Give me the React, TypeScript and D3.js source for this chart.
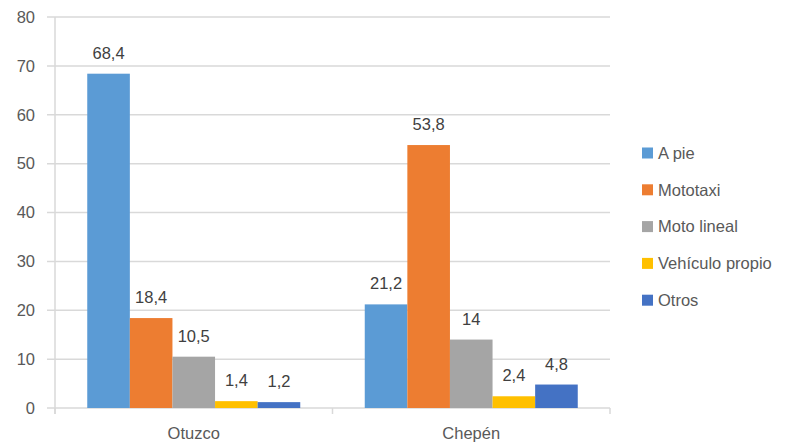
import React from "react";
import * as d3 from "d3";

const categories = ["Otuzco", "Chepén"];
const seriesNames = ["A pie", "Mototaxi", "Moto lineal", "Vehículo propio", "Otros"];
const seriesColors = ["#5B9BD5", "#ED7D31", "#A5A5A5", "#FFC000", "#4472C4"];
const values: number[][] = [
  [68.4, 21.2],
  [18.4, 53.8],
  [10.5, 14],
  [1.4, 2.4],
  [1.2, 4.8],
];
const yTicks = [0, 10, 20, 30, 40, 50, 60, 70, 80];

const W = 787;
const H = 447;
const left = 55;
const right = 610;
const top = 17;
const bottom = 408;
const font = "'Liberation Sans', Arial, sans-serif";
const fs = 16.5;

export default function App() {
  const x = d3.scaleBand<string>().domain(categories).range([left, right]).paddingInner(0).paddingOuter(0);
  const y = d3.scaleLinear().domain([0, 80]).range([bottom, top]);
  const groupFrac = 213 / 277.5;
  const inner = d3
    .scaleBand<string>()
    .domain(seriesNames)
    .range([0, x.bandwidth() * groupFrac]);
  const offset = (x.bandwidth() * (1 - groupFrac)) / 2;
  const fmt = (v: number) => String(v).replace(".", ",");

  return (
    <svg width={W} height={H} style={{ position: "absolute", left: 0, top: 0, background: "#fff" }}>
      <rect x={0} y={0} width={W} height={H} fill="#fff" />
      {yTicks.map((t) => (
        <g key={t}>
          <line x1={left - 8} x2={right} y1={y(t)} y2={y(t)} stroke="#D9D9D9" strokeWidth={1.5} />
          <text x={35} y={y(t)} dy="0.35em" textAnchor="end" fontSize={fs} fill="#595959" fontFamily={font}>
            {t}
          </text>
        </g>
      ))}
      <line x1={left} x2={left} y1={top} y2={bottom + 6} stroke="#D9D9D9" strokeWidth={1.5} />
      {[left, left + x.bandwidth(), right].map((xx, i) => (
        <line key={i} x1={xx} x2={xx} y1={bottom} y2={bottom + 6} stroke="#D9D9D9" strokeWidth={1.5} />
      ))}
      {seriesNames.map((s, si) =>
        categories.map((c, ci) => {
          const v = values[si][ci];
          const bx = (x(c) as number) + offset + (inner(s) as number);
          return (
            <g key={s + c}>
              <rect x={bx} y={y(v)} width={inner.bandwidth()} height={bottom - y(v)} fill={seriesColors[si]} />
              <text
                x={bx + inner.bandwidth() / 2}
                y={y(v) - 15}
                textAnchor="middle"
                fontSize={fs}
                fill="#404040"
                fontFamily={font}
              >
                {fmt(v)}
              </text>
            </g>
          );
        })
      )}
      {categories.map((c) => (
        <text
          key={c}
          x={(x(c) as number) + x.bandwidth() / 2}
          y={433}
          dy="0.35em"
          textAnchor="middle"
          fontSize={fs}
          fill="#595959"
          fontFamily={font}
        >
          {c}
        </text>
      ))}
      {seriesNames.map((s, i) => (
        <g key={s} transform={`translate(642, ${153 + i * 36.8})`}>
          <rect x={0} y={-5.5} width={11} height={11} fill={seriesColors[i]} />
          <text x={16} y={0} dy="0.35em" fontSize={fs} fill="#595959" fontFamily={font}>
            {s}
          </text>
        </g>
      ))}
    </svg>
  );
}
